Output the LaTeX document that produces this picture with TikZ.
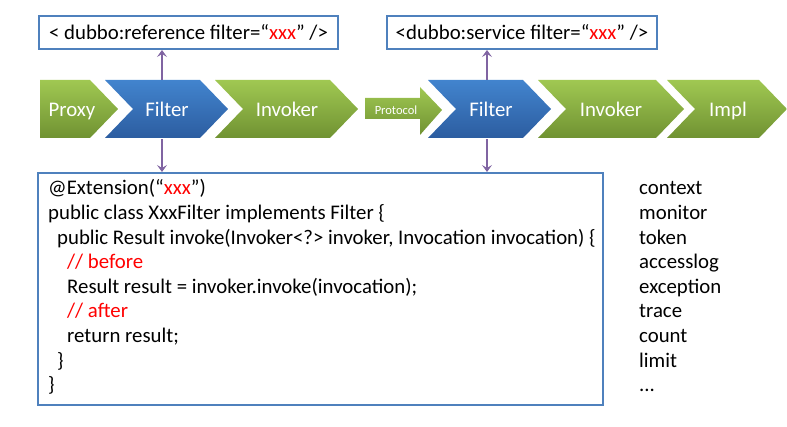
\documentclass[tikz,border=0pt]{standalone}
\usepackage{fontspec}
\setmainfont{Carlito}
\usetikzlibrary{arrows.meta}
\definecolor{boxblue}{RGB}{79,129,189}
\definecolor{arrowpurple}{RGB}{128,100,162}
\definecolor{gtop}{RGB}{160,200,82}
\definecolor{gbot}{RGB}{112,146,50}
\definecolor{btop}{RGB}{66,132,206}
\definecolor{bbot}{RGB}{44,93,160}
\begin{document}
\begin{tikzpicture}[x=1pt,y=1pt,
  tagbox/.style={draw=boxblue, line width=2pt, fill=white, minimum height=33pt, inner sep=0pt, font=\fontsize{20.8}{24}\selectfont},
  chevlabel/.style={text=white, font=\fontsize{20.8}{24}\selectfont, inner sep=0pt, text height=18pt, text depth=3pt, minimum height=59pt},
  link/.style={draw=arrowpurple, line width=2pt, -{Stealth[length=7pt,width=10pt,inset=3pt]}},
  greenfill/.style={top color=gtop, bottom color=gbot, draw=none},
  bluefill/.style={top color=btop, bottom color=bbot, draw=none},
  codeline/.style={anchor=base west, inner sep=0pt, font=\fontsize{20.8}{24}\selectfont},
]
\useasboundingbox (0,0) rectangle (787,427);
% chevrons
\shade[greenfill] (40,347) -- (90,347) -- (118,318) -- (90,289) -- (40,289) -- cycle;
\shade[bluefill] (105,347) -- (200,347) -- (228,318) -- (200,289) -- (105,289) -- (133,318) -- cycle;
\shade[greenfill] (215,347) -- (330,347) -- (358,318) -- (330,289) -- (215,289) -- (243,318) -- cycle;
\shade[greenfill] (365,329) -- (420,329) -- (420,340) -- (442,317) -- (420,292) -- (420,308) -- (365,308) -- cycle;
\shade[bluefill] (428,347) -- (523,347) -- (551,318) -- (523,289) -- (428,289) -- (456,318) -- cycle;
\shade[greenfill] (538,347) -- (656,347) -- (684,318) -- (656,289) -- (538,289) -- (566,318) -- cycle;
\shade[greenfill] (667,347) -- (759,347) -- (787,318) -- (759,289) -- (667,289) -- (695,318) -- cycle;
% chevron labels
\node[chevlabel] (proxy) at (72,317.5) {Proxy};
\node[chevlabel] (f1) at (167,317.5) {Filter};
\node[chevlabel] (inv1) at (287,317.5) {Invoker};
\node[text=white, inner sep=0pt, anchor=base, font=\fontsize{12.5}{15}\selectfont] (proto) at (396,312) {Protocol};
\node[chevlabel] (f2) at (491,317.5) {Filter};
\node[chevlabel] (inv2) at (611,317.5) {Invoker};
\node[chevlabel] (impl) at (728,317.5) {Impl};
% top boxes
\node[tagbox, minimum width=299pt] (ref) at (188.5,394.5) {< dubbo:reference filter=“\textcolor{red}{xxx}” />};
\node[tagbox, minimum width=270pt] (svc) at (522,394.5) {<dubbo:service filter=“\textcolor{red}{xxx}” />};
% code box
\node[draw=boxblue, line width=2pt, minimum width=565pt, minimum height=232pt, inner sep=0pt] (code) at (320.5,138) {};
\node[codeline] (c1) at (48,232) {@Extension(“\textcolor{red}{xxx}”)};
\node[codeline] (c2) at (48,207.4) {public class XxxFilter implements Filter \{};
\node[codeline] (c3) at (57,182.8) {public Result invoke(Invoker<?> invoker, Invocation invocation) \{};
\node[codeline, text=red] (c4) at (67,158.2) {// before};
\node[codeline] (c5) at (67,133.6) {Result result = invoker.invoke(invocation);};
\node[codeline, text=red] (c6) at (67,109) {// after};
\node[codeline] (c7) at (67,84.4) {return result;};
\node[codeline] (c8) at (57,59.8) {\}};
\node[codeline] (c9) at (48,35.2) {\}};
% filter list
\node[codeline] (l1) at (639,232) {context};
\node[codeline] (l2) at (639,207.4) {monitor};
\node[codeline] (l3) at (639,182.8) {token};
\node[codeline] (l4) at (639,158.2) {accesslog};
\node[codeline] (l5) at (639,133.6) {exception};
\node[codeline] (l6) at (639,109) {trace};
\node[codeline] (l7) at (639,84.4) {count};
\node[codeline] (l8) at (639,59.8) {limit};
\node[codeline] (l9) at (639,35.2) {...};
% connectors
\draw[link] ([xshift=-5pt]f1.north) -- ([xshift=-5pt]f1.north |- ref.south);
\draw[link] ([xshift=-5pt]f1.south) -- ([xshift=-5pt]f1.south |- code.north);
\draw[link] ([xshift=-4pt]f2.north) -- ([xshift=-4pt]f2.north |- svc.south);
\draw[link] ([xshift=-4pt]f2.south) -- ([xshift=-4pt]f2.south |- code.north);
\end{tikzpicture}
\end{document}
